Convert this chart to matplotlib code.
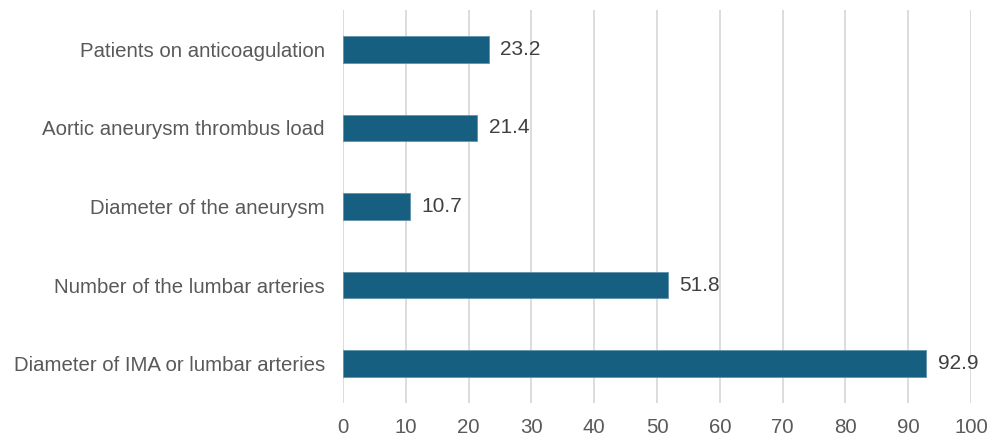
import matplotlib
matplotlib.use("Agg")
import matplotlib.pyplot as plt

categories = ["Patients on anticoagulation", "Aortic aneurysm thrombus load",
              "Diameter of the aneurysm", "Number of the lumbar arteries",
              "Diameter of IMA or lumbar arteries"]
values = [23.2, 21.4, 10.7, 51.8, 92.9]
xticks = [0, 10, 20, 30, 40, 50, 60, 70, 80, 90, 100]

plt.rcParams['font.family'] = ['Liberation Sans', 'DejaVu Sans']

fig = plt.figure(figsize=(9.89, 4.4), dpi=100)
ax = fig.add_axes([343/989, 37/440, 628/989, 393/440])

ypos = list(range(len(categories)))
ax.barh(ypos, values, height=0.34, color="#165f80", edgecolor="#5f93ab", linewidth=0.6, zorder=3)
for y, v in zip(ypos, values):
    ax.annotate(f"{v:.1f}", (v, y), xytext=(8, 0), textcoords="offset points",
                va="center", ha="left", fontsize=15, color="#404040")

ax.set_xlim(0, 100)
ax.set_ylim(len(categories) - 0.5, -0.5)
ax.set_xticks(xticks)
ax.set_yticks(ypos)
ax.set_yticklabels(categories)
ax.grid(axis="x", color="#d9d9d9", linewidth=1.3, zorder=0)
ax.set_axisbelow(True)
for s in ax.spines.values():
    s.set_visible(False)
ax.tick_params(axis="both", length=0, labelsize=14.7, labelcolor="#595959")
ax.tick_params(axis="x", pad=11)
ax.tick_params(axis="y", pad=13)

fig.savefig("out.png", dpi=100)
